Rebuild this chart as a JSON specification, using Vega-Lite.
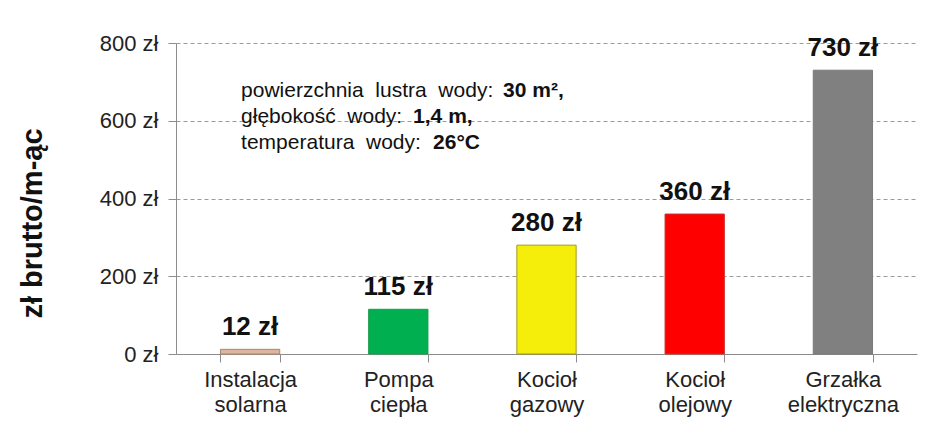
{
  "$schema": "https://vega.github.io/schema/vega-lite/v6.json",
  "width": 741,
  "height": 311,
  "autosize": "none",
  "padding": {"left": 176, "top": 43, "right": 31, "bottom": 69},
  "config": {
    "font": "Liberation Sans",
    "view": {"stroke": null}
  },
  "datasets": {
    "costs": [
      {"name": "Instalacja solarna", "value": 12, "label": "12 zł"},
      {"name": "Pompa ciepła", "value": 115, "label": "115 zł"},
      {"name": "Kocioł gazowy", "value": 280, "label": "280 zł"},
      {"name": "Kocioł olejowy", "value": 360, "label": "360 zł"},
      {"name": "Grzałka elektryczna", "value": 730, "label": "730 zł"}
    ],
    "note1": [{"name": "Instalacja solarna", "value": 677, "normal": "powierzchnia\u00a0\u00a0lustra\u00a0\u00a0wody:", "bold": "30 m²,"}],
    "note2": [{"name": "Instalacja solarna", "value": 610, "normal": "głębokość\u00a0\u00a0wody:", "bold": "1,4 m,"}],
    "note3": [{"name": "Instalacja solarna", "value": 543, "normal": "temperatura\u00a0\u00a0wody:", "bold": "26°C"}]
  },
  "layer": [
    {
      "data": {"name": "costs"},
      "mark": {"type": "bar", "strokeWidth": 1},
      "encoding": {
        "x": {
          "field": "name",
          "type": "nominal",
          "sort": null,
          "scale": {"paddingInner": 0.6, "paddingOuter": 0.3},
          "axis": {
            "title": null,
            "labelAngle": 0,
            "labelFontSize": 22,
            "labelColor": "#222222",
            "labelLineHeight": 25,
            "labelPadding": 7,
            "labelExpr": "split(datum.label, ' ')",
            "domainColor": "#8c8c8c",
            "tickColor": "#8c8c8c",
            "tickSize": 8,
            "tickBand": "extent"
          }
        },
        "y": {
          "field": "value",
          "type": "quantitative",
          "scale": {"domain": [0, 800]},
          "axis": {
            "values": [0, 200, 400, 600, 800],
            "labelExpr": "datum.value + ' zł'",
            "labelFontSize": 22,
            "labelColor": "#222222",
            "labelPadding": 10,
            "tickSize": 8,
            "tickColor": "#8c8c8c",
            "domainColor": "#8c8c8c",
            "grid": true,
            "gridDash": [4, 3],
            "gridColor": "#9a9a9a",
            "title": "zł brutto/m-ąc",
            "titleFontSize": 29,
            "titleFontWeight": "bold",
            "titleColor": "#111111",
            "titleX": -144,
            "titleY": 180,
            "titleAngle": -90,
            "titleAlign": "center",
            "titleBaseline": "middle"
          }
        },
        "color": {
          "field": "name",
          "type": "nominal",
          "sort": null,
          "scale": {"range": ["#DDB49E", "#00B050", "#F5EE0A", "#FF0000", "#808080"]},
          "legend": null
        },
        "stroke": {
          "field": "name",
          "type": "nominal",
          "sort": null,
          "scale": {"range": ["#A8866F", "#1a9a4a", "#A09A20", "#c83030", "#7a7a7a"]},
          "legend": null
        }
      }
    },
    {
      "data": {"name": "costs"},
      "mark": {"type": "text", "fontSize": 26, "fontWeight": "bold", "baseline": "alphabetic", "dy": -14, "color": "#111111"},
      "encoding": {
        "x": {"field": "name", "type": "nominal", "sort": null},
        "y": {"field": "value", "type": "quantitative"},
        "text": {"field": "label"}
      }
    },
    {
      "data": {"name": "note1"},
      "mark": {"type": "text", "fontSize": 21, "align": "left", "baseline": "middle", "dx": -9, "color": "#111111"},
      "encoding": {
        "x": {"field": "name", "type": "nominal", "sort": null},
        "y": {"field": "value", "type": "quantitative"},
        "text": {"field": "normal"}
      }
    },
    {
      "data": {"name": "note1"},
      "mark": {"type": "text", "fontSize": 21, "fontWeight": "bold", "align": "left", "baseline": "middle", "dx": 253, "color": "#111111"},
      "encoding": {
        "x": {"field": "name", "type": "nominal", "sort": null},
        "y": {"field": "value", "type": "quantitative"},
        "text": {"field": "bold"}
      }
    },
    {
      "data": {"name": "note2"},
      "mark": {"type": "text", "fontSize": 21, "align": "left", "baseline": "middle", "dx": -9, "color": "#111111"},
      "encoding": {
        "x": {"field": "name", "type": "nominal", "sort": null},
        "y": {"field": "value", "type": "quantitative"},
        "text": {"field": "normal"}
      }
    },
    {
      "data": {"name": "note2"},
      "mark": {"type": "text", "fontSize": 21, "fontWeight": "bold", "align": "left", "baseline": "middle", "dx": 163, "color": "#111111"},
      "encoding": {
        "x": {"field": "name", "type": "nominal", "sort": null},
        "y": {"field": "value", "type": "quantitative"},
        "text": {"field": "bold"}
      }
    },
    {
      "data": {"name": "note3"},
      "mark": {"type": "text", "fontSize": 21, "align": "left", "baseline": "middle", "dx": -9, "color": "#111111"},
      "encoding": {
        "x": {"field": "name", "type": "nominal", "sort": null},
        "y": {"field": "value", "type": "quantitative"},
        "text": {"field": "normal"}
      }
    },
    {
      "data": {"name": "note3"},
      "mark": {"type": "text", "fontSize": 21, "fontWeight": "bold", "align": "left", "baseline": "middle", "dx": 183, "color": "#111111"},
      "encoding": {
        "x": {"field": "name", "type": "nominal", "sort": null},
        "y": {"field": "value", "type": "quantitative"},
        "text": {"field": "bold"}
      }
    }
  ]
}
